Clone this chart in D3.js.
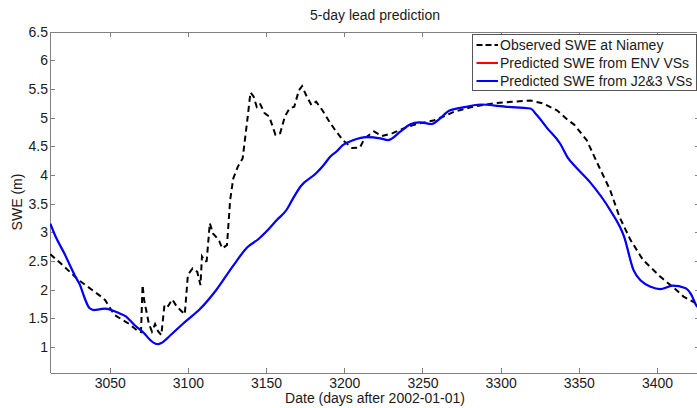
<!DOCTYPE html>
<html lang="en">

<head>
  <meta charset="UTF-8">
  <title>5-day lead prediction</title>
  <script src="https://cdn.jsdelivr.net/npm/d3@7.6.1/dist/d3.min.js"></script>
  <style>
    body { margin: 0; background: #fff; }
    svg { display: block; font-family: "Liberation Sans", Arial, sans-serif; }
  </style>
</head>

<body>
  <div id="chart"></div>
  <script>
    const width = 697
    const height = 408
    const margin = { left: 50, right: -3, top: 31.7, bottom: 35.3 }

    // observed water level (dashed black)
    const obsDays = [3012, 3021, 3030, 3040, 3045, 3047, 3053, 3062, 3068, 3070, 3071, 3072, 3075, 3077, 3079, 3081, 3083,
      3085, 3087, 3090, 3093, 3095, 3098, 3100, 3103, 3106, 3108, 3109, 3111, 3112, 3114, 3116, 3118, 3120, 3122, 3124, 3125,
      3127, 3128, 3129, 3132, 3135, 3138, 3140, 3142, 3144, 3146, 3149, 3152, 3156, 3159, 3162, 3165, 3168, 3171, 3173,
      3176, 3179, 3182, 3186, 3190, 3194, 3199, 3205, 3210, 3213, 3219, 3224, 3231, 3240, 3248, 3257, 3266, 3270, 3282,
      3295, 3308, 3319, 3327, 3336, 3343, 3347, 3355, 3363, 3370, 3376, 3383, 3391, 3402, 3410, 3417, 3425, 3428]
    const obsSwe = [2.62, 2.40, 2.17, 1.97, 1.87, 1.82, 1.56, 1.41, 1.28, 1.26, 2.08, 1.82, 1.41, 1.27, 1.40, 1.27, 1.21,
      1.73, 1.70, 1.83, 1.70, 1.65, 1.57, 2.26, 2.37, 2.31, 2.08, 2.58, 2.49, 2.50, 3.16, 2.98, 2.92, 2.85, 2.72, 2.76, 2.78,
      3.56, 3.75, 3.94, 4.15, 4.29, 4.96, 5.44, 5.37, 5.19, 5.25, 5.08, 5.02, 4.70, 4.73, 5.02, 5.16, 5.19, 5.48, 5.55,
      5.37, 5.22, 5.28, 5.13, 4.95, 4.79, 4.61, 4.47, 4.48, 4.64, 4.76, 4.68, 4.73, 4.84, 4.90, 4.95, 5.05, 5.10, 5.19,
      5.25, 5.28, 5.30, 5.25, 5.13, 4.96, 4.88, 4.61, 4.14, 3.74, 3.27, 2.87, 2.52, 2.23, 2.05, 1.88, 1.76, 1.71]

    // predicted (blue, J2&3). ENV prediction is identical and hidden underneath
    const predDays = [3012, 3015, 3021, 3028, 3031, 3034, 3037, 3040, 3044, 3047, 3051, 3056, 3060, 3066, 3072, 3076,
      3079, 3081, 3083, 3089, 3097, 3108, 3118, 3129, 3138, 3145, 3150, 3157, 3163, 3167, 3172, 3182, 3187, 3191, 3195, 3199,
      3206, 3214, 3223, 3228, 3236, 3242, 3248, 3256, 3261, 3267, 3278, 3287, 3304, 3319, 3323, 3330, 3338, 3343, 3347,
      3357, 3370, 3379, 3385, 3390, 3396, 3402, 3410, 3418, 3422, 3425, 3428]
    const predJ23 = [3.15, 2.95, 2.63, 2.23, 2.08, 1.85, 1.68, 1.645, 1.66, 1.67, 1.645, 1.59, 1.54, 1.38, 1.24, 1.12,
      1.06, 1.05, 1.07, 1.21, 1.41, 1.67, 1.99, 2.42, 2.74, 2.88, 3.01, 3.22, 3.39, 3.58, 3.80, 4.03, 4.18, 4.32, 4.41, 4.52,
      4.61, 4.66, 4.64, 4.61, 4.76, 4.88, 4.92, 4.89, 4.98, 5.12, 5.19, 5.23, 5.19, 5.16, 5.05, 4.81, 4.55, 4.30, 4.17,
      3.88, 3.39, 2.92, 2.34, 2.15, 2.05, 2.01, 2.07, 2.03, 1.91, 1.73, 1.66]
    const predEnv = predJ23

    const xTicks = [3050, 3100, 3150, 3200, 3250, 3300, 3350, 3400]
    const yTicks = [1, 1.5, 2, 2.5, 3, 3.5, 4, 4.5, 5, 5.5, 6, 6.5]
    const legendLabels = ['Observed SWE at Niamey', 'Predicted SWE from ENV VSs', 'Predicted SWE from J2&3 VSs']

    const x = d3.scaleLinear().domain([3011.8, 3427.5]).range([margin.left, width - margin.right])
    const y = d3.scaleLinear().domain([0.552, 6.5]).range([height - margin.bottom, margin.top])

    const svg = d3.select('#chart').append('svg')
      .attr('width', width)
      .attr('height', height)

    svg.append('defs').append('clipPath').attr('id', 'clip')
      .append('rect')
      .attr('x', x.range()[0]).attr('y', y.range()[1])
      .attr('width', x.range()[1] - x.range()[0])
      .attr('height', y.range()[0] - y.range()[1])

    const axisColor = '#808080'
    const textColor = '#1a1a1a'

    function styleAxis(g) {
      g.selectAll('path, line').attr('stroke', axisColor).attr('shape-rendering', 'crispEdges')
      g.selectAll('text').attr('fill', textColor).attr('font-size', 14)
        .attr('font-family', '"Liberation Sans", Arial, sans-serif')
    }

    svg.append('g')
      .attr('transform', `translate(0,${y.range()[0]})`)
      .call(d3.axisBottom(x).tickValues(xTicks).tickSize(-5).tickSizeOuter(0).tickPadding(5).tickFormat(d => d))
      .call(styleAxis)
    svg.append('g')
      .attr('transform', `translate(0,${y.range()[1]})`)
      .call(d3.axisTop(x).tickValues(xTicks).tickSize(-5).tickSizeOuter(0).tickFormat(''))
      .call(styleAxis)
    svg.append('g')
      .attr('transform', `translate(${x.range()[0]},0)`)
      .call(d3.axisLeft(y).tickValues(yTicks).tickSize(-5).tickSizeOuter(0).tickPadding(2).tickFormat(d => d))
      .call(styleAxis)
    svg.append('g')
      .attr('transform', `translate(${x.range()[1]},0)`)
      .call(d3.axisRight(y).tickValues(yTicks).tickSize(-5).tickSizeOuter(0).tickFormat(''))
      .call(styleAxis)

    const plot = svg.append('g').attr('clip-path', 'url(#clip)')

    const obsLine = d3.line().x((d, i) => x(obsDays[i])).y(d => y(d))
    const predLine = d3.line().x((d, i) => x(predDays[i])).y(d => y(d)).curve(d3.curveMonotoneX)

    plot.append('path').datum(obsSwe)
      .attr('d', obsLine)
      .attr('fill', 'none').attr('stroke', '#000').attr('stroke-width', 2)
      .attr('stroke-dasharray', '6,4')
    // red line sits under the blue one, thinner so no red edge shows
    plot.append('path').datum(predEnv)
      .attr('d', predLine)
      .attr('fill', 'none').attr('stroke', '#ff0000').attr('stroke-width', 1.2)
    plot.append('path').datum(predJ23)
      .attr('d', predLine)
      .attr('fill', 'none').attr('stroke', '#0000ff').attr('stroke-width', 2.2)

    // title and axis labels
    svg.append('text')
      .attr('x', 375).attr('y', 19.5)
      .attr('text-anchor', 'middle').attr('font-size', 14).attr('fill', textColor)
      .text('5-day lead prediction')
    svg.append('text')
      .attr('x', 375).attr('y', 403)
      .attr('text-anchor', 'middle').attr('font-size', 14).attr('fill', textColor)
      .text('Date (days after 2002-01-01)')
    svg.append('text')
      .attr('transform', 'translate(22,202) rotate(-90)')
      .attr('text-anchor', 'middle').attr('font-size', 14).attr('fill', textColor)
      .text('SWE (m)')

    // legend
    const legend = svg.append('g').attr('transform', 'translate(472.5,34)')
    legend.append('rect')
      .attr('width', 224).attr('height', 56.5)
      .attr('fill', '#fff').attr('stroke', '#555').attr('shape-rendering', 'crispEdges')
    const legendStyles = [
      { stroke: '#000', dash: '6,3' },
      { stroke: '#ff0000', dash: null },
      { stroke: '#0000ff', dash: null }
    ]
    const items = legend.selectAll('g.item').data(legendLabels)
      .enter().append('g')
      .attr('class', 'item')
      .attr('transform', (d, i) => `translate(0,${11 + i * 18})`)
    items.append('line')
      .attr('x1', 4).attr('x2', 25.5)
      .attr('stroke', (d, i) => legendStyles[i].stroke)
      .attr('stroke-width', 2)
      .attr('stroke-dasharray', (d, i) => legendStyles[i].dash)
    items.append('text')
      .attr('x', 27.5).attr('dy', '0.35em')
      .attr('font-size', 14).attr('fill', textColor)
      .text(d => d)
  </script>
</body>

</html>
